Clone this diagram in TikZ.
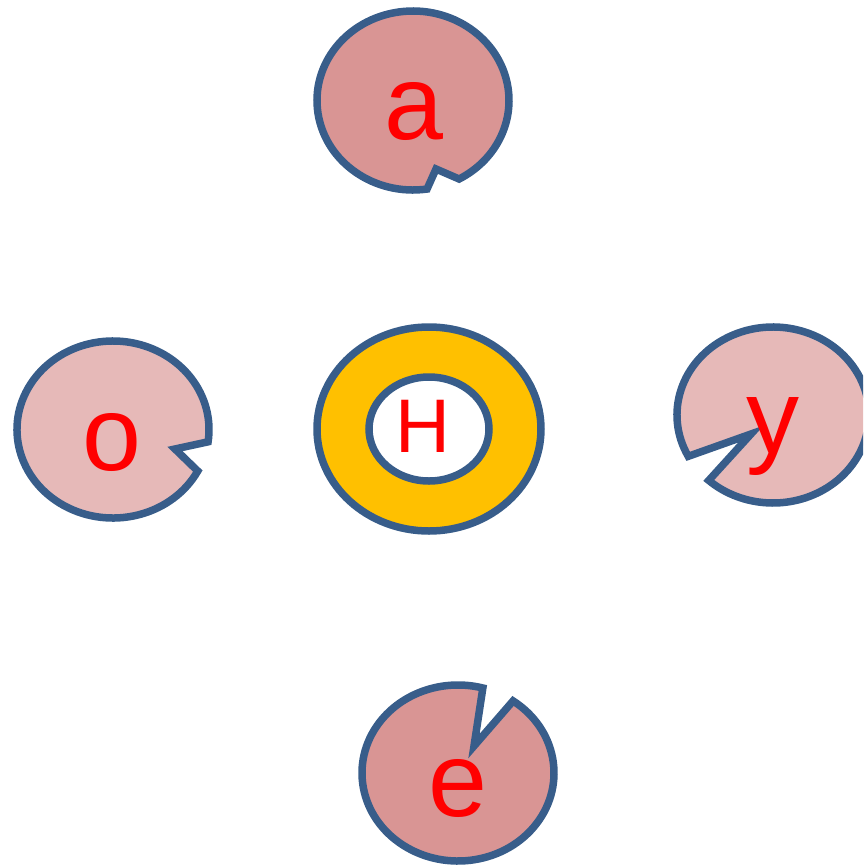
\documentclass[tikz,border=0pt]{standalone}
\usepackage{fontspec}
\setmainfont{Liberation Sans}
\definecolor{edgeblue}{HTML}{385D8A}
\definecolor{pinkdark}{HTML}{D99594}
\definecolor{pinklight}{HTML}{E6B9B8}
\definecolor{ringyellow}{HTML}{FFC000}
\definecolor{txtred}{HTML}{FF0000}
\tikzset{
  pac/.style={draw=edgeblue, line width=7.5pt, line join=miter},
  letter/.style={text=txtred, anchor=base, inner sep=0pt, font=\fontsize{106}{106}\selectfont},
  hletter/.style={text=txtred, anchor=base, inner sep=0pt, font=\fontsize{76}{76}\selectfont},
}
\begin{document}
\begin{tikzpicture}[x=1pt,y=-1pt]
\useasboundingbox (0,0) rectangle (863,868);
\clip (0,0) rectangle (863,868);
% a
\coordinate (ca) at (413,100.5);
\draw[pac, fill=pinkdark] (ca) ++(81.6:96 and 89.5) arc[start angle=81.6, end angle=421.3, x radius=96, y radius=89.5] -- (436,169) -- cycle;
\node[letter] (ta) at (413.5,139) {a};
% o
\coordinate (co) at (113,429.5);
\draw[pac, fill=pinklight] (co) ++(28:96 and 88.5) arc[start angle=28, end angle=368, x radius=96, y radius=88.5] -- (175,449) -- cycle;
\node[letter] (to) at (112,470) {o};
% y
\coordinate (cy) at (773,415);
\draw[pac, fill=pinklight] (cy) ++(152:96 and 88) arc[start angle=152, end angle=492, x radius=96, y radius=88] -- (751,434) -- cycle;
\node[letter] (ty) at (773,453) {y};
% e
\coordinate (ce) at (458,773);
\draw[pac, fill=pinkdark] (ce) ++(305:96 and 88) arc[start angle=305, end angle=645, x radius=96, y radius=88] -- (474,746) -- cycle;
\node[letter] (te) at (458,816) {e};
% center ring
\coordinate (ch) at (429,429);
\draw[pac, fill=ringyellow] (ch) ellipse[x radius=112, y radius=102];
\draw[pac, fill=white] (ch) ellipse[x radius=60, y radius=52];
\node[hletter] (th) at (423,452) {H};
\end{tikzpicture}
\end{document}
